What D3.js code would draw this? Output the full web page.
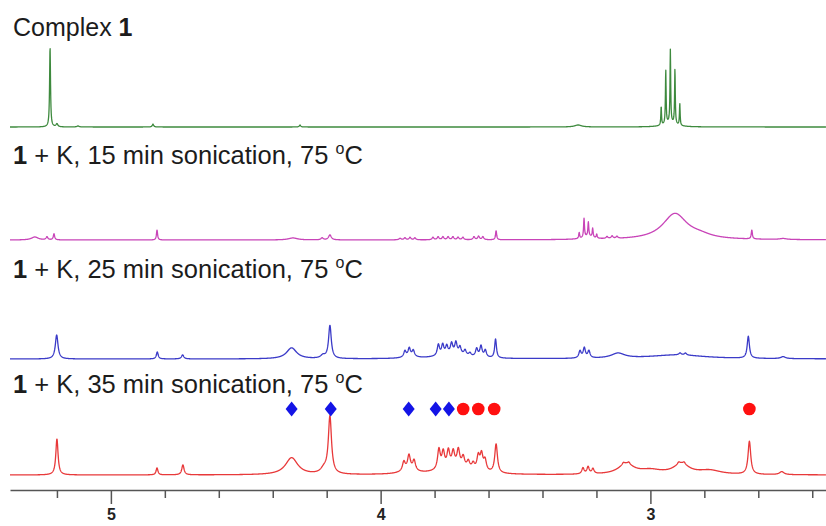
<!DOCTYPE html>
<html>
<head>
<meta charset="utf-8">
<script src="https://cdn.jsdelivr.net/npm/d3@7"></script>
<style>
  body { margin: 0; background: #fff; }
  svg { display: block; }
  .label { font-family: "Liberation Sans", Arial, sans-serif; font-size: 25.5px; fill: #1c1c1c; }
  .axis text { font-family: "Liberation Sans", Arial, sans-serif; font-size: 16px; font-weight: bold; fill: #222; }
</style>
</head>
<body>
<svg id="chart" width="826" height="526"></svg>
<script>
// Peak lists: [shift (ppm), relative height, width (ppm)]
const complex1Peaks = [
  [5.2255, 80, 0.004], [5.200, 3, 0.008], [5.122, 1, 0.01], [4.844, 3, 0.006],
  [4.299, 2, 0.006], [3.268, 2, 0.03],
  [2.960, 19, 0.003], [2.943, 54, 0.003], [2.926, 73, 0.003], [2.909, 55, 0.003], [2.891, 22, 0.003],
  [2.927, 4, 0.05]
];

const min15Peaks = [
  [5.282, 3, 0.03], [5.237, 3, 0.008], [5.211, 6, 0.006], [4.829, 10, 0.005],
  [4.325, 2, 0.04], [4.217, 2, 0.01], [4.188, 5, 0.012],
  [3.928, 1.5, 0.01], [3.910, 2, 0.008], [3.891, 2.5, 0.008], [3.873, 2, 0.008],
  [3.806, 2.5, 0.008], [3.787, 3, 0.008], [3.769, 3, 0.008], [3.750, 3, 0.008],
  [3.732, 3, 0.008], [3.713, 2.5, 0.008], [3.695, 2.5, 0.008],
  [3.654, 3, 0.008], [3.637, 3.5, 0.008], [3.621, 3, 0.008],
  [3.572, 9, 0.005],
  [3.264, 6, 0.004], [3.246, 19, 0.004], [3.230, 14, 0.004], [3.214, 9, 0.004], [3.199, 4, 0.004],
  [3.230, 3, 0.04],
  [3.161, 2, 0.008], [3.142, 2.5, 0.008], [3.124, 2, 0.008],
  [2.909, 26, 0.11], [2.816, 3, 0.1],
  [2.624, 9, 0.005], [2.508, 1, 0.03]
];

const min25Peaks = [
  [5.201, 24, 0.012], [4.828, 7, 0.008], [4.734, 4, 0.01],
  [4.330, 11, 0.045], [4.214, 3, 0.02], [4.188, 33, 0.012],
  [3.910, 6, 0.01], [3.894, 8, 0.01], [3.879, 6, 0.01], [3.890, 2, 0.05],
  [3.786, 11, 0.01], [3.770, 10, 0.01], [3.755, 8, 0.01], [3.737, 10, 0.01],
  [3.721, 11, 0.01], [3.706, 7, 0.01], [3.687, 5, 0.01], [3.669, 3, 0.01],
  [3.644, 8, 0.01], [3.628, 11, 0.01], [3.612, 7, 0.01], [3.730, 5, 0.12],
  [3.574, 19, 0.008],
  [3.261, 7, 0.01], [3.245, 10, 0.01], [3.228, 7, 0.01],
  [3.120, 5, 0.06], [2.900, 4, 0.25], [2.890, 2, 0.01], [2.870, 2, 0.01],
  [2.637, 22, 0.01], [2.508, 2, 0.02]
];

const min35Peaks = [
  [5.200, 36, 0.01], [4.829, 7, 0.008], [4.733, 10, 0.01],
  [4.330, 17, 0.055], [4.210, 5, 0.03], [4.188, 57, 0.014],
  [3.914, 9, 0.012], [3.895, 14, 0.012], [3.876, 10, 0.012], [3.895, 4, 0.06],
  [3.784, 20, 0.012], [3.768, 16, 0.012], [3.749, 16, 0.012], [3.731, 14, 0.012],
  [3.712, 16, 0.012], [3.694, 10, 0.012], [3.675, 7, 0.012], [3.657, 6, 0.012],
  [3.638, 14, 0.012], [3.626, 16, 0.012], [3.613, 11, 0.012], [3.720, 8, 0.13],
  [3.572, 29, 0.012],
  [3.250, 6, 0.01], [3.231, 7, 0.01], [3.213, 5, 0.01],
  [3.090, 10, 0.07], [3.100, 2, 0.01], [3.080, 2, 0.01],
  [3.000, 4, 0.1],
  [2.885, 10, 0.07], [2.895, 2, 0.01], [2.875, 2, 0.01],
  [2.780, 4, 0.1],
  [2.633, 33, 0.012], [2.513, 3, 0.02]
];

const spectra = [
  { name: "complex1", peaks: complex1Peaks, color: "#3e8a3e" },
  { name: "15min", peaks: min15Peaks, color: "#c844b8" },
  { name: "25min", peaks: min25Peaks, color: "#3b3bc8" },
  { name: "35min", peaks: min35Peaks, color: "#e8393a" }
];

// assignment markers above the 35 min trace
const diamondShifts = [4.330, 4.185, 3.896, 3.796, 3.747];
const circleShifts = [3.694, 3.638, 3.579, 2.633];

const majorTicks = [5, 4, 3];

const svg = d3.select("#chart");
const width = 826;

const x = d3.scaleLinear()
    .domain([5.374, 2.349])
    .range([10, width]);

// baselines for the stacked traces
const baselines = [127, 240, 359, 475];

// ppm grid used to draw each peak list as a line
const grid = d3.range(5.374, 2.349, -0.0008);

function lorentz(ppm, peaks) {
  let s = 0;
  for (const [c, h, w] of peaks) {
    let t = (ppm - c) / (w / 2);
    s += h / (1 + t * t);
  }
  return s;
}

spectra.forEach((sp, i) => {
  let y = d3.scaleLinear()
      .domain([0, 100])
      .range([baselines[i], baselines[i] - 100]);

  let line = d3.line()
      .x(d => x(d[0]))
      .y(d => y(d[1]));

  let pts = grid.map(p => [p, lorentz(p, sp.peaks)]);

  svg.append("path")
      .datum(pts)
      .attr("fill", "none")
      .attr("stroke", sp.color)
      .attr("stroke-width", 1.3)
      .attr("stroke-linejoin", "round")
      .attr("d", line);
});

// labels
const labels = svg.append("g").attr("class", "label");

let t0 = labels.append("text").attr("x", 13).attr("y", 36).attr("font-size", "25px");
t0.append("tspan").text("Complex ");
t0.append("tspan").attr("font-weight", "bold").text("1");

[["15", 164], ["25", 278], ["35", 393]].forEach(([mins, yy]) => {
  let t = labels.append("text").attr("x", 13).attr("y", yy);
  t.append("tspan").attr("font-weight", "bold").text("1");
  t.append("tspan").text(` + K, ${mins} min sonication, 75 `);
  t.append("tspan").attr("font-size", "16px").attr("dy", -10).text("o");
  t.append("tspan").attr("dy", 10).text("C");
});

// markers
const markerY = 409;
svg.append("g")
  .selectAll("path")
  .data(diamondShifts)
  .enter().append("path")
    .attr("d", "M0,-7.5 L6,0 L0,7.5 L-6,0 Z")
    .attr("transform", d => `translate(${x(d)},${markerY})`)
    .attr("fill", "#1414e6");

svg.append("g")
  .selectAll("circle")
  .data(circleShifts)
  .enter().append("circle")
    .attr("cx", d => x(d))
    .attr("cy", markerY)
    .attr("r", 6.3)
    .attr("fill", "#ff1010");

// axis
const tickVals = d3.range(5.2, 2.35, -0.2);
const isMajor = v => Math.abs(v - Math.round(v)) < 1e-6;

const axis = d3.axisBottom(x)
    .tickValues(tickVals)
    .tickSize(8)
    .tickSizeOuter(0)
    .tickFormat(v => isMajor(v) && majorTicks.includes(Math.round(v)) ? String(Math.round(v)) : "");

const ax = svg.append("g")
    .attr("class", "axis")
    .attr("transform", "translate(0,490)")
    .call(axis);

ax.select(".domain").attr("stroke", "#555").attr("stroke-width", 1.5);
ax.selectAll(".tick line")
    .attr("stroke", "#555")
    .attr("stroke-width", 1.5)
    .attr("y2", d => isMajor(d) ? 14 : 8);
ax.selectAll(".tick text")
    .attr("y", 30)
    .attr("dy", 0);
</script>
</body>
</html>
